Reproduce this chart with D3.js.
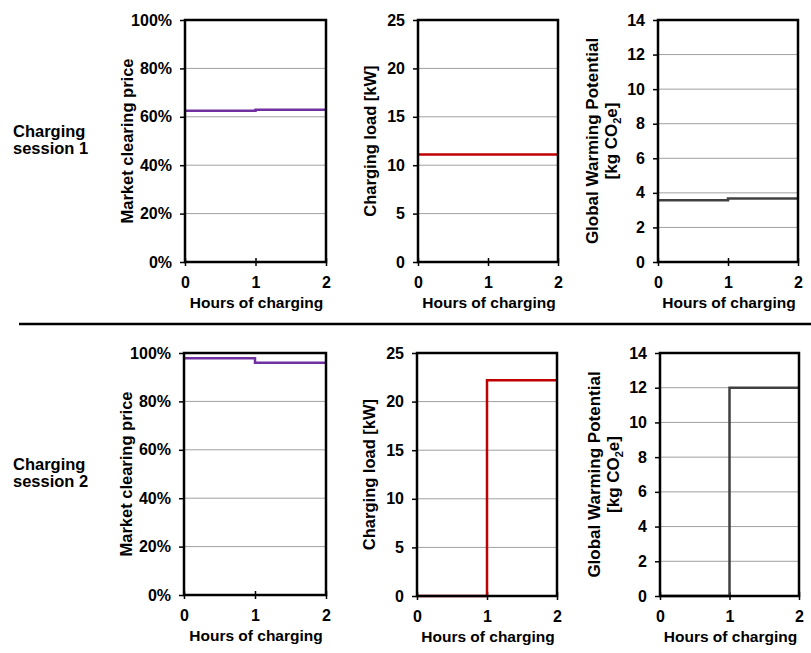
<!DOCTYPE html>
<html>
<head>
<meta charset="utf-8">
<script src="https://cdn.jsdelivr.net/npm/d3@7"></script>
<style>
  html, body { margin: 0; padding: 0; background: #fff; }
  svg { display: block; }
  text { font-family: "Liberation Sans", Arial, sans-serif; font-weight: bold; fill: #000; }
</style>
</head>
<body>
<svg id="chart" width="811" height="653"></svg>
<script>
// ---- Data ----
const hours = [0, 1, 2];
const xTicks = [0, 1, 2];
const sessionLabels = [["Charging", "session 1"], ["Charging", "session 2"]];

// Market clearing price (fraction of max), per hour of charging
const priceS1 = [0.625, 0.629];
const priceS2 = [0.978, 0.960];
// Charging load [kW]
const loadS1 = [11.1, 11.1];
const loadS2 = [0, 22.2];
// Global warming potential [kg CO2e]
const gwpS1 = [3.57, 3.67];
const gwpS2 = [0, 12.0];

const priceTicks = [0, 0.2, 0.4, 0.6, 0.8, 1.0];
const loadTicks = [0, 5, 10, 15, 20, 25];
const gwpTicks = [0, 2, 4, 6, 8, 10, 12, 14];

const xTitle = "Hours of charging";

// ---- Layout ----
const svg = d3.select("#chart");

const panels = [
  {row: 0, x: 185, y: 20, w: 141, h: 242, vals: priceS1, ticks: priceTicks, max: 1, fmt: d3.format(".0%"), color: "#7030A0", title: ["Market clearing price"]},
  {row: 0, x: 418, y: 20, w: 140, h: 242, vals: loadS1, ticks: loadTicks, max: 25, fmt: d3.format("d"), color: "#C00000", title: ["Charging load [kW]"]},
  {row: 0, x: 658, y: 20, w: 140, h: 242, vals: gwpS1, ticks: gwpTicks, max: 14, fmt: d3.format("d"), color: "#404040", title: ["Global Warming Potential", "CO2"]},
  {row: 1, x: 184, y: 353, w: 142, h: 242, vals: priceS2, ticks: priceTicks, max: 1, fmt: d3.format(".0%"), color: "#7030A0", title: ["Market clearing price"]},
  {row: 1, x: 417, y: 353, w: 140, h: 243, vals: loadS2, ticks: loadTicks, max: 25, fmt: d3.format("d"), color: "#C00000", title: ["Charging load [kW]"]},
  {row: 1, x: 660, y: 353, w: 139, h: 243, vals: gwpS2, ticks: gwpTicks, max: 14, fmt: d3.format("d"), color: "#404040", title: ["Global Warming Potential", "CO2"]}
];

panels.forEach(p => {
  const g = svg.append("g").attr("transform", `translate(${p.x},${p.y})`);
  const x = d3.scaleLinear().domain([0, 2]).range([0, p.w]);
  const y = d3.scaleLinear().domain([0, p.max]).range([p.h, 0]);

  // gridlines
  g.append("g").selectAll("line").data(p.ticks.filter(t => t > 0 && t < p.max)).join("line")
    .attr("x1", 0).attr("x2", p.w)
    .attr("y1", d => y(d)).attr("y2", d => y(d))
    .attr("stroke", "#a0a0a0").attr("stroke-width", 1);

  // y axis
  const ya = g.append("g").call(d3.axisLeft(y).tickValues(p.ticks).tickFormat(p.fmt).tickSize(5).tickPadding(8));
  ya.select(".domain").remove();
  ya.selectAll(".tick line").attr("stroke", "#000").attr("stroke-width", 1.5);
  ya.selectAll(".tick text").style("font-size", "16px").style("font-family", "Liberation Sans, Arial, sans-serif").style("font-weight", "bold").attr("fill", "#000");

  // x axis
  const xa = g.append("g").attr("transform", `translate(0,${p.h})`)
    .call(d3.axisBottom(x).tickValues(xTicks).tickFormat(d3.format("d")).tickSize(4).tickPadding(11));
  xa.select(".domain").remove();
  xa.selectAll(".tick line").attr("y1", -4).attr("stroke", "#000").attr("stroke-width", 1.5);
  xa.selectAll(".tick text").style("font-size", "16px").style("font-family", "Liberation Sans, Arial, sans-serif").style("font-weight", "bold").attr("fill", "#000");

  // data step line
  const pts = hours.map((h, i) => ({x: h, y: p.vals[Math.min(i, p.vals.length - 1)]}));
  g.append("path").datum(pts)
    .attr("fill", "none").attr("stroke", p.color).attr("stroke-width", 2.5)
    .attr("d", d3.line().x(d => x(d.x)).y(d => y(d.y)).curve(d3.curveStepAfter));

  // frame
  g.append("rect").attr("x", 0).attr("y", 0).attr("width", p.w).attr("height", p.h)
    .attr("fill", "none").attr("stroke", "#000").attr("stroke-width", 2.5);

  // x title
  g.append("text").attr("x", p.w / 2 + 1).attr("y", p.h + 46)
    .attr("text-anchor", "middle").style("font-size", "15.5px").text(xTitle);

  // y title
  const cy = p.h / 2;
  if (p.title.length === 1) {
    const off = p.max === 1 ? -52 : -42;
    g.append("text").attr("transform", `translate(${off},${cy}) rotate(-90)`)
      .attr("text-anchor", "middle").style("font-size", "16.5px").text(p.title[0]);
  } else {
    g.append("text").attr("transform", `translate(-60,${cy}) rotate(-90)`)
      .attr("text-anchor", "middle").style("font-size", "17px").text(p.title[0]);
    const t2 = g.append("text").attr("transform", `translate(-41,${cy}) rotate(-90)`)
      .attr("text-anchor", "middle").style("font-size", "17px");
    t2.append("tspan").text("[kg CO");
    t2.append("tspan").attr("dy", 4).style("font-size", "11px").text("2");
    t2.append("tspan").attr("dy", -4).text("e]");
  }
});

// session labels
const rowCenters = [137, 470];
sessionLabels.forEach((lines, i) => {
  const t = svg.append("text").attr("x", 13).attr("y", rowCenters[i]).style("font-size", "16.5px");
  lines.forEach((l, j) => t.append("tspan").attr("x", 13).attr("dy", j === 0 ? 0 : 17).text(l));
});

// separator
svg.append("line").attr("x1", 19).attr("x2", 811).attr("y1", 324).attr("y2", 324)
  .attr("stroke", "#000").attr("stroke-width", 2.5);
</script>
</body>
</html>
